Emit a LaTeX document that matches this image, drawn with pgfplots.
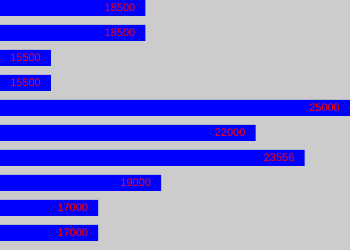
\documentclass[border=0pt]{standalone}
\usepackage{pgfplots}
\pgfplotsset{compat=1.18}
\usepackage{fontspec}
\setmainfont{Liberation Sans}
\definecolor{bggray}{HTML}{CCCCCC}
\definecolor{barblue}{HTML}{0000FF}
\definecolor{labred}{HTML}{FF0000}
\begin{document}
\begin{tikzpicture}
\begin{axis}[
  scale only axis,
  width=350bp, height=250bp,
  xmin=13880, xmax=25000,
  ymin=-0.32, ymax=9.68,
  y dir=reverse,
  xbar, bar width=16bp,
  axis background/.style={fill=bggray},
  axis line style={draw=none},
  xtick=\empty, ytick=\empty,
  point meta=explicit symbolic,
  nodes near coords,
  every node near coord/.append style={anchor=east, xshift=-10bp, inner sep=0pt, text=labred, font=\fontsize{11}{11}\selectfont},
]
\addplot[fill=barblue, draw=none] coordinates {
  (18500,0) [18500]
  (18500,1) [18500]
  (15500,2) [15500]
  (15500,3) [15500]
  (25000,4) [25000]
  (22000,5) [22000]
  (23556,6) [23556]
  (19000,7) [19000]
  (17000,8) [17000]
  (17000,9) [17000]
};
\end{axis}
\end{tikzpicture}
\end{document}
